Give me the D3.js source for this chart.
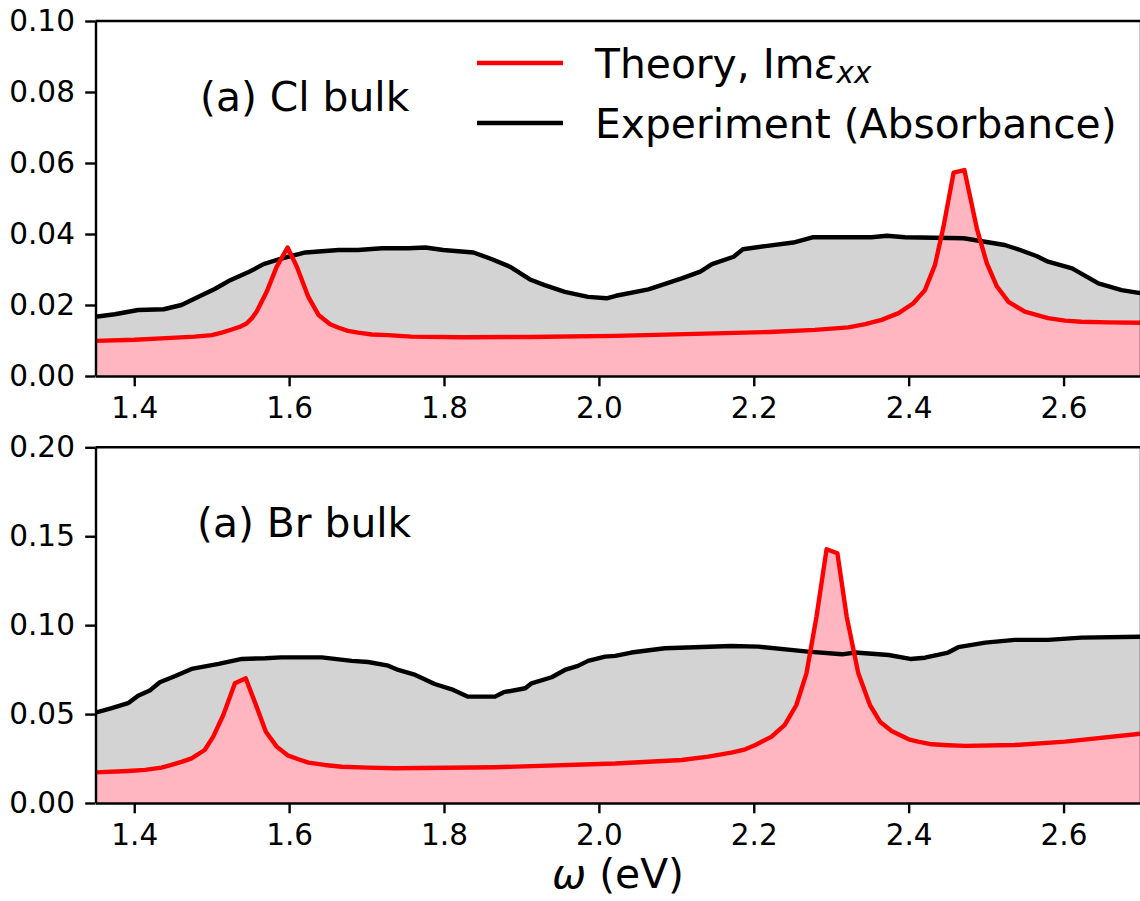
<!DOCTYPE html>
<html>
<head>
<meta charset="utf-8">
<script src="https://cdn.jsdelivr.net/npm/d3@7"></script>
<style>
  body { margin: 0; background: #fff; }
  svg { display: block; font-family: "DejaVu Sans", sans-serif; }
</style>
</head>
<body>
<svg id="chart" width="1140" height="901"></svg>
<script>
// x ticks shared by both panels
const xTicks = [1.4, 1.6, 1.8, 2.0, 2.2, 2.4, 2.6];
const clTicks = [0, 0.02, 0.04, 0.06, 0.08, 0.10];
const brTicks = [0, 0.05, 0.10, 0.15, 0.20];

// Cl bulk: experiment (absorbance)
const clExpE = [1.350,1.375,1.405,1.438,1.461,1.483,1.504,1.524,1.547,1.567,1.590,1.621,1.664,1.689,1.720,1.754,1.776,1.799,1.838,1.862,1.885,1.911,1.930,1.956,1.986,2.010,2.022,2.064,2.107,2.131,2.146,2.174,2.186,2.215,2.251,2.277,2.352,2.372,2.395,2.471,2.524,2.544,2.565,2.580,2.611,2.645,2.675,2.695,2.700];
const clExpA = [0.0167,0.0174,0.0186,0.0188,0.0200,0.0223,0.0245,0.0270,0.0292,0.0315,0.0331,0.0348,0.0355,0.0355,0.0360,0.0360,0.0362,0.0355,0.0348,0.0329,0.0308,0.0272,0.0256,0.0237,0.0223,0.0219,0.0226,0.0244,0.0275,0.0294,0.0315,0.0336,0.0357,0.0366,0.0376,0.0391,0.0391,0.0395,0.0391,0.0388,0.0369,0.0355,0.0338,0.0322,0.0303,0.0261,0.0242,0.0235,0.0233];

// Cl bulk: theory Im eps_xx
const clThE = [1.350,1.400,1.435,1.478,1.500,1.513,1.526,1.537,1.545,1.552,1.558,1.571,1.584,1.598,1.610,1.625,1.638,1.653,1.664,1.676,1.689,1.707,1.728,1.758,1.823,1.909,2.021,2.150,2.220,2.279,2.322,2.344,2.365,2.387,2.406,2.421,2.434,2.445,2.458,2.472,2.488,2.501,2.514,2.529,2.550,2.580,2.602,2.623,2.658,2.700];
const clThI = [0.0099,0.0102,0.0106,0.0111,0.0115,0.0122,0.0131,0.0139,0.0148,0.0163,0.0181,0.0237,0.0308,0.0362,0.0308,0.0222,0.0172,0.0146,0.0136,0.0127,0.0122,0.0117,0.0115,0.0111,0.0109,0.0110,0.0113,0.0120,0.0124,0.0130,0.0137,0.0146,0.0158,0.0177,0.0205,0.0242,0.0313,0.0421,0.0573,0.0580,0.0416,0.0317,0.0252,0.0209,0.0181,0.0163,0.0156,0.0153,0.0151,0.0150];

// Br bulk: experiment (absorbance)
const brExpE = [1.350,1.371,1.392,1.405,1.420,1.433,1.453,1.474,1.509,1.539,1.569,1.590,1.642,1.681,1.702,1.728,1.741,1.763,1.788,1.810,1.831,1.866,1.877,1.905,1.913,1.939,1.956,1.973,1.986,2.008,2.021,2.042,2.085,2.171,2.206,2.270,2.314,2.331,2.374,2.402,2.421,2.451,2.464,2.499,2.537,2.580,2.623,2.700];
const brExpA = [0.0508,0.0533,0.0561,0.0603,0.0632,0.0679,0.0714,0.0754,0.0782,0.0810,0.0814,0.0819,0.0819,0.0799,0.0793,0.0772,0.0748,0.0720,0.0669,0.0639,0.0598,0.0598,0.0623,0.0645,0.0673,0.0707,0.0748,0.0771,0.0799,0.0823,0.0827,0.0846,0.0870,0.0883,0.0879,0.0851,0.0836,0.0846,0.0832,0.0810,0.0817,0.0846,0.0876,0.0902,0.0917,0.0917,0.0930,0.0935];

// Br bulk: theory Im eps_xx
const brThE = [1.350,1.392,1.414,1.435,1.448,1.461,1.474,1.491,1.502,1.515,1.530,1.544,1.558,1.570,1.584,1.599,1.612,1.625,1.646,1.668,1.702,1.737,1.866,2.021,2.107,2.141,2.171,2.189,2.202,2.223,2.240,2.255,2.268,2.281,2.294,2.308,2.320,2.335,2.350,2.363,2.378,2.400,2.412,2.430,2.451,2.473,2.537,2.602,2.700];
const brThI = [0.0172,0.0180,0.0186,0.0199,0.0214,0.0231,0.0251,0.0298,0.0373,0.0495,0.0673,0.0701,0.0542,0.0401,0.0317,0.0266,0.0246,0.0227,0.0214,0.0204,0.0199,0.0195,0.0201,0.0222,0.0242,0.0261,0.0283,0.0302,0.0326,0.0373,0.0439,0.0551,0.0729,0.1048,0.1427,0.1404,0.1048,0.0729,0.0551,0.0457,0.0405,0.0358,0.0345,0.0330,0.0325,0.0321,0.0326,0.0345,0.0390];

const svg = d3.select("#chart");

const left = 95.5, right = 1141;
const tickLen = 10.3, lw = 2.4;
const tickFont = 29.5, bigFont = 40.8;

const x = d3.scaleLinear().domain([1.35, 2.7]).range([left, right]);

function drawPanel(opts) {
  const y = d3.scaleLinear().domain([0, opts.yMax]).range([opts.bottom, opts.top]);
  const g = svg.append("g");

  g.append("clipPath").attr("id", opts.id)
    .append("rect")
    .attr("x", left).attr("y", opts.top)
    .attr("width", right - left).attr("height", opts.bottom - opts.top);

  const plot = g.append("g").attr("clip-path", `url(#${opts.id})`);

  const area = d3.area().x(d => x(d[0])).y0(y(0)).y1(d => y(d[1]));
  const line = d3.line().x(d => x(d[0])).y(d => y(d[1]));

  const exp = d3.zip(opts.expE, opts.expA);
  const th = d3.zip(opts.thE, opts.thI);

  plot.append("path").attr("d", area(exp)).attr("fill", "#d3d3d3");
  plot.append("path").attr("d", area(th)).attr("fill", "#ffb6c1");
  plot.append("path").attr("d", line(exp))
    .attr("fill", "none").attr("stroke", "#000").attr("stroke-width", 4.4)
    .attr("stroke-linejoin", "round");
  plot.append("path").attr("d", line(th))
    .attr("fill", "none").attr("stroke", "#ff0000").attr("stroke-width", 4.4)
    .attr("stroke-linejoin", "round");

  // spines
  g.append("line")
    .attr("x1", left).attr("x2", right)
    .attr("y1", opts.top).attr("y2", opts.top)
    .attr("stroke", "#000").attr("stroke-width", lw);
  g.append("line")
    .attr("x1", right).attr("x2", right)
    .attr("y1", opts.top).attr("y2", opts.bottom)
    .attr("stroke", "#000").attr("stroke-width", lw);

  const yAxis = g.append("g")
    .attr("transform", `translate(${left},0)`)
    .call(d3.axisLeft(y).tickValues(opts.yTicks).tickFormat(d3.format(".2f"))
      .tickSize(tickLen).tickSizeOuter(0).tickPadding(tickLen));

  const xAxis = g.append("g")
    .attr("transform", `translate(0,${opts.bottom})`)
    .call(d3.axisBottom(x).tickValues(xTicks).tickFormat(d3.format(".1f"))
      .tickSize(tickLen).tickSizeOuter(0).tickPadding(tickLen));

  [yAxis, xAxis].forEach(a => {
    a.select(".domain").attr("stroke-width", lw);
    a.selectAll(".tick line").attr("stroke-width", lw);
    a.selectAll(".tick text")
      .attr("font-family", "DejaVu Sans")
      .attr("font-size", tickFont)
      .attr("fill", "#000");
  });

  g.append("text")
    .attr("x", opts.labelX).attr("y", opts.labelY)
    .attr("font-size", bigFont)
    .text(opts.label);
}

drawPanel({
  id: "clip-cl", top: 21, bottom: 376, yMax: 0.10, yTicks: clTicks,
  expE: clExpE, expA: clExpA, thE: clThE, thI: clThI,
  label: "(a) Cl bulk", labelX: 200, labelY: 111
});

drawPanel({
  id: "clip-br", top: 447.3, bottom: 803, yMax: 0.20, yTicks: brTicks,
  expE: brExpE, expA: brExpA, thE: brThE, thI: brThI,
  label: "(a) Br bulk", labelX: 197, labelY: 537
});

// legend
const legend = svg.append("g");
legend.append("line")
  .attr("x1", 477).attr("x2", 563).attr("y1", 63).attr("y2", 63)
  .attr("stroke", "#ff0000").attr("stroke-width", 4.4);
legend.append("line")
  .attr("x1", 477).attr("x2", 563).attr("y1", 123).attr("y2", 123)
  .attr("stroke", "#000").attr("stroke-width", 4.4);

const t1 = legend.append("text")
  .attr("x", 595).attr("y", 77.5)
  .attr("font-size", bigFont);
t1.append("tspan").text("Theory, Im");
t1.append("tspan").attr("font-style", "italic").text("ε");
t1.append("tspan").attr("font-style", "italic")
  .attr("font-size", bigFont * 0.72).attr("dy", 5.5).text("xx");

legend.append("text")
  .attr("x", 595).attr("y", 137.5)
  .attr("font-size", bigFont)
  .text("Experiment (Absorbance)");

// x axis label
const xl = svg.append("text")
  .attr("x", 618).attr("y", 888)
  .attr("text-anchor", "middle")
  .attr("font-size", bigFont);
xl.append("tspan").attr("font-style", "italic").text("ω");
xl.append("tspan").text(" (eV)");
</script>
</body>
</html>
